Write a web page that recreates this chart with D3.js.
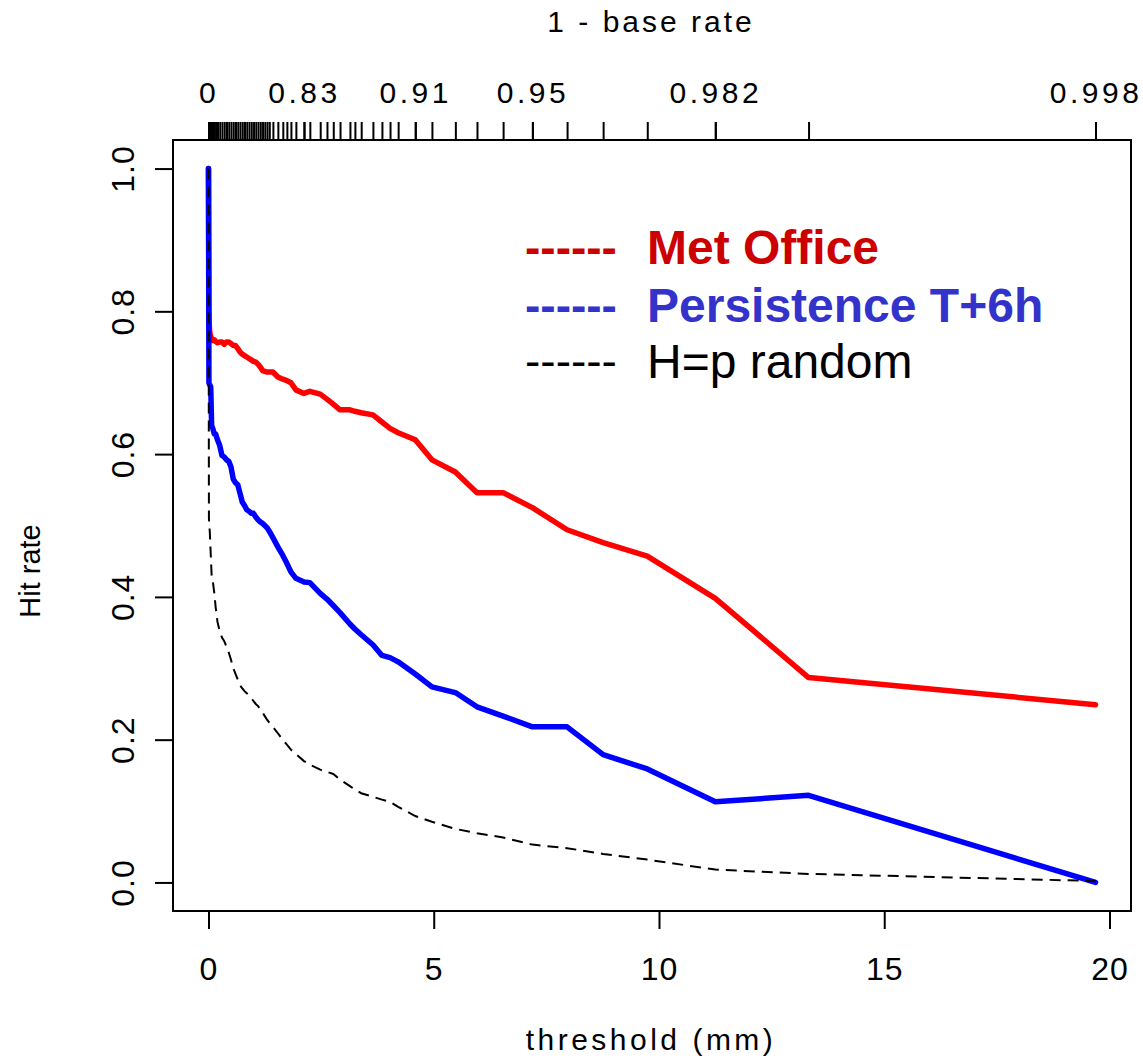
<!DOCTYPE html>
<html>
<head>
<meta charset="utf-8">
<script src="https://cdn.jsdelivr.net/npm/d3@7"></script>
<style>
  html, body { margin: 0; padding: 0; background: #fff; }
  svg { display: block; font-family: "Liberation Sans", Arial, Helvetica, sans-serif; }
</style>
</head>
<body>
<svg id="chart" width="1143" height="1058"></svg>
<script>
// Rainfall thresholds (mm) at which the hit rates were evaluated
const thresholds = [
  0, 0.01, 0.02, 0.03, 0.05, 0.07, 0.1, 0.13, 0.16, 0.2, 0.25, 0.3, 0.35, 0.4, 0.45,
  0.5, 0.55, 0.6, 0.65, 0.7, 0.75, 0.8, 0.85, 0.9, 0.95, 1.0, 1.05, 1.1, 1.15, 1.2,
  1.25, 1.3, 1.35, 1.43, 1.54, 1.65, 1.74, 1.83, 1.94, 2.12, 2.25, 2.48, 2.63, 2.77,
  2.92, 3.14, 3.25, 3.39, 3.65, 3.85, 4.03, 4.21, 4.59, 4.96, 5.48, 5.96, 6.54, 7.19,
  7.96, 8.76, 9.74, 11.25, 13.32, 19.69
];

// Hit rate of the Met Office forecast
const metOffice = [
  1.0, 0.80, 0.778, 0.77, 0.765, 0.762, 0.759, 0.760, 0.758, 0.756, 0.757, 0.757, 0.754, 0.757, 0.757,
  0.755, 0.752, 0.752, 0.748, 0.743, 0.740, 0.738, 0.736, 0.734, 0.732, 0.730, 0.729, 0.726, 0.722, 0.717,
  0.716, 0.715, 0.715, 0.715, 0.708, 0.705, 0.703, 0.700, 0.690, 0.685, 0.688, 0.684, 0.677, 0.670,
  0.662, 0.662, 0.660, 0.658, 0.655, 0.645, 0.636, 0.630, 0.620, 0.592, 0.575, 0.546, 0.546, 0.525,
  0.494, 0.476, 0.457, 0.398, 0.287, 0.249
];

// Hit rate of the 6-hour persistence forecast
const persistence = [
  1.0, 0.70, 0.698, 0.697, 0.694, 0.64, 0.635, 0.628, 0.628, 0.620, 0.612, 0.598, 0.596, 0.592, 0.590,
  0.582, 0.565, 0.560, 0.557, 0.545, 0.533, 0.528, 0.522, 0.520, 0.517, 0.517, 0.512, 0.508, 0.505, 0.503,
  0.500, 0.497, 0.492, 0.483, 0.470, 0.458, 0.447, 0.435, 0.426, 0.421, 0.420, 0.405, 0.397, 0.388,
  0.378, 0.362, 0.355, 0.347, 0.333, 0.318, 0.315, 0.309, 0.292, 0.274, 0.266, 0.246, 0.233, 0.218,
  0.218, 0.179, 0.159, 0.113, 0.122, 0.0
];

// Random forecast: hit rate equals the base rate p
const randomHit = [
  1.0, 0.51, 0.50, 0.49, 0.46, 0.43, 0.42, 0.405, 0.385, 0.365, 0.352, 0.343, 0.338, 0.330, 0.322,
  0.312, 0.300, 0.292, 0.284, 0.276, 0.272, 0.268, 0.265, 0.262, 0.258, 0.254, 0.250, 0.247, 0.243, 0.238,
  0.233, 0.228, 0.224, 0.218, 0.209, 0.200, 0.193, 0.186, 0.180, 0.170, 0.165, 0.158, 0.155, 0.152,
  0.144, 0.135, 0.130, 0.125, 0.120, 0.116, 0.113, 0.106, 0.093, 0.085, 0.075, 0.069, 0.063, 0.053,
  0.048, 0.040, 0.032, 0.018, 0.012, 0.002
];

// Labelled thresholds on the top axis (1 - base rate)
const topLabelAt = [0, 2.12, 4.59, 7.19, 11.25, 19.69];
const topLabels = ["0", "0.83", "0.91", "0.95", "0.982", "0.998"];

const xTickValues = [0, 5, 10, 15, 20];
const yTickValues = [0, 0.2, 0.4, 0.6, 0.8, 1.0];
const yTickLabels = ["0.0", "0.2", "0.4", "0.6", "0.8", "1.0"];

const legendNames = ["Met Office", "Persistence T+6h", "H=p random"];
const legendColors = ["#cc0000", "#3333cc", "#000000"];

// ---- layout ----
const box = { left: 173, right: 1131, top: 140, bottom: 911 };
const svg = d3.select("#chart");

// axis ranges padded by 4% on each side
const xExt = d3.extent(thresholds);
const xPad = (xExt[1] - xExt[0]) * 0.04;
const x = d3.scaleLinear().domain([xExt[0] - xPad, xExt[1] + xPad]).range([box.left, box.right]);
const y = d3.scaleLinear().domain([-0.04, 1.04]).range([box.bottom, box.top]);

const font = '"Liberation Sans", Arial, Helvetica, sans-serif';

function styleAxis(g, size, spacing) {
  g.select(".domain").remove();
  g.selectAll(".tick line").attr("stroke", "#000").attr("stroke-width", 2);
  g.selectAll(".tick text")
    .attr("fill", "#000")
    .style("font-family", font)
    .style("font-size", size + "px")
    .style("letter-spacing", spacing + "px");
}

// bottom axis
const gx = svg.append("g")
  .attr("transform", `translate(0,${box.bottom})`)
  .call(d3.axisBottom(x).tickValues(xTickValues).tickFormat(d3.format("d")).tickSize(18).tickPadding(28));
styleAxis(gx, 32, 1);

// top axis: a tick for every threshold, labels on a few
const gtTicks = svg.append("g")
  .attr("transform", `translate(0,${box.top})`)
  .call(d3.axisTop(x).tickValues(thresholds).tickFormat("").tickSize(18));
styleAxis(gtTicks, 30, 3.5);

const gtLabels = svg.append("g")
  .attr("transform", `translate(0,${box.top})`)
  .call(d3.axisTop(x).tickValues(topLabelAt)
    .tickFormat((d, i) => topLabels[i]).tickSize(18).tickPadding(19));
styleAxis(gtLabels, 30, 3.5);

// left axis with labels turned parallel to the axis
const gy = svg.append("g")
  .attr("transform", `translate(${box.left},0)`)
  .call(d3.axisLeft(y).tickValues(yTickValues).tickFormat((d, i) => yTickLabels[i]).tickSize(18));
styleAxis(gy, 32, 1);
gy.selectAll(".tick text")
  .attr("x", null).attr("dy", null)
  .attr("text-anchor", "middle")
  .attr("transform", "translate(-39,0) rotate(-90)");

// plot frame
svg.append("rect")
  .attr("x", box.left).attr("y", box.top)
  .attr("width", box.right - box.left).attr("height", box.bottom - box.top)
  .attr("fill", "none").attr("stroke", "#000").attr("stroke-width", 2);

// axis titles
svg.append("text")
  .attr("x", 651).attr("y", 1050)
  .attr("text-anchor", "middle")
  .style("font-family", font).style("font-size", "30px").style("letter-spacing", "3.5px")
  .text("threshold (mm)");

svg.append("text")
  .attr("x", 651).attr("y", 32)
  .attr("text-anchor", "middle")
  .style("font-family", font).style("font-size", "30px").style("letter-spacing", "3px")
  .text("1 - base rate");

svg.append("text")
  .attr("transform", "translate(40,571) rotate(-90)")
  .attr("text-anchor", "middle")
  .style("font-family", font).style("font-size", "29px")
  .text("Hit rate");

// curves
const line = d3.line().x(d => x(d[0])).y(d => y(d[1]));
const pairs = vals => thresholds.map((t, i) => [t, vals[i]]);

svg.append("path")
  .datum(pairs(metOffice))
  .attr("d", line)
  .attr("fill", "none").attr("stroke", "#ff0000").attr("stroke-width", 5.5)
  .attr("stroke-linejoin", "round").attr("stroke-linecap", "round");

svg.append("path")
  .datum(pairs(persistence))
  .attr("d", line)
  .attr("fill", "none").attr("stroke", "#0000ff").attr("stroke-width", 5.5)
  .attr("stroke-linejoin", "round").attr("stroke-linecap", "round");

svg.append("path")
  .datum(pairs(randomHit))
  .attr("d", line)
  .attr("fill", "none").attr("stroke", "#000").attr("stroke-width", 2)
  .attr("stroke-dasharray", "11,7");

// legend: hyphen runs followed by the series names
const legendBaselines = [264, 322, 378];
const lg = svg.append("g");
legendNames.forEach((name, i) => {
  const weight = i < 2 ? "bold" : "normal";
  lg.append("text")
    .attr("x", 525).attr("y", legendBaselines[i] - 1)
    .style("font-family", font).style("font-size", "46px").style("font-weight", weight)
    .attr("fill", legendColors[i])
    .text("------");
  lg.append("text")
    .attr("x", 647).attr("y", legendBaselines[i])
    .style("font-family", font).style("font-size", "48px").style("font-weight", weight)
    .attr("fill", legendColors[i])
    .text(name);
});
</script>
</body>
</html>
